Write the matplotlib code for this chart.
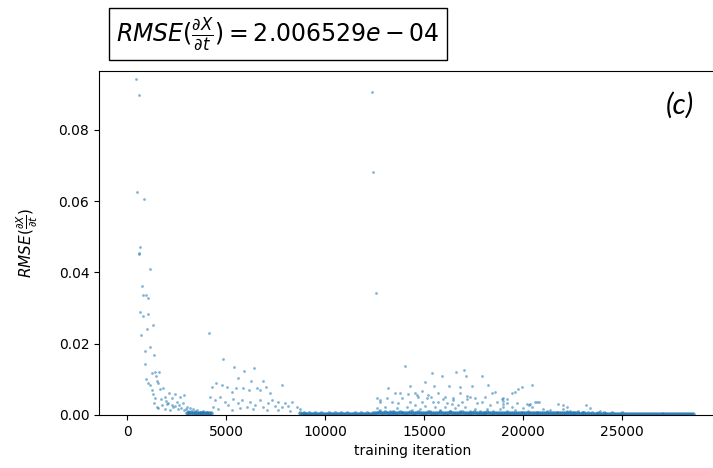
import numpy as np
import matplotlib
matplotlib.use("Agg")
import matplotlib.pyplot as plt

# first run (restart at ~0)
run_a_iter = [415, 566, 480, 819, 617, 566, 597, 1122, 718, 799, 920, 1036, 632, 768, 1021,
              1001, 1274, 683, 1153, 870, 1325, 900, 1406, 1577, 1224, 1441, 920, 1052, 1476, 1557,
              1628, 1224, 1138, 1305, 1340, 1810, 1896, 1729, 2113, 2234, 2063, 2402, 2487, 2316,
              2654, 2857, 2791, 2993, 3160, 3327, 3499, 3666, 3833, 4004, 1557, 1896, 2149, 2568,
              2857, 1390, 1476, 1700, 1950, 2250, 2700, 3050, 3400, 3750, 2020, 2380, 2620, 2950]
run_a_rmse = [0.0943, 0.0898, 0.0625, 0.0606, 0.0471, 0.0452, 0.0455, 0.0410, 0.0362, 0.0337,
              0.0338, 0.0327, 0.0290, 0.0279, 0.0283, 0.0241, 0.0252, 0.0224, 0.0192, 0.0179,
              0.0167, 0.0143, 0.0121, 0.0120, 0.0118, 0.0110, 0.0102, 0.0091, 0.0096, 0.0091,
              0.0072, 0.0070, 0.0084, 0.0059, 0.0033, 0.0075, 0.0051, 0.0028, 0.0061, 0.0047,
              0.0033, 0.0059, 0.0037, 0.0023, 0.0051, 0.0057, 0.0033, 0.0023, 0.0019, 0.0016,
              0.0014, 0.0009, 0.0010, 0.0009, 0.0019, 0.0016, 0.0014, 0.0016, 0.0014, 0.0047,
              0.0023, 0.0044, 0.0038, 0.0027, 0.0021, 0.0012, 0.0011, 0.0008, 0.0030, 0.0025,
              0.0029, 0.0017]

# second run (restart at ~4100)
run_b_iter = [4121, 4828, 5369, 5875, 6411, 5587, 6259, 6866, 7796, 4490, 4288, 4793, 5015,
              5268, 5486, 5825, 6128, 6563, 6714, 7003, 7190, 4171, 4424, 4677, 4930, 5096,
              5349, 5602, 5774, 6027, 6193, 6446, 6699, 6866, 7119, 7291, 7458, 7625, 7796,
              7963, 8130, 8302, 8555, 8722, 4338, 4591, 5268, 5688, 6360, 7038, 7625, 8216]
run_b_rmse = [0.0229, 0.0156, 0.0136, 0.0124, 0.0133, 0.0105, 0.0094, 0.0094, 0.0085, 0.0091,
              0.0078, 0.0084, 0.0079, 0.0065, 0.0075, 0.0075, 0.0070, 0.0076, 0.0070, 0.0078,
              0.0063, 0.0051, 0.0042, 0.0050, 0.0037, 0.0028, 0.0044, 0.0033, 0.0042, 0.0022,
              0.0037, 0.0028, 0.0042, 0.0022, 0.0033, 0.0042, 0.0025, 0.0037, 0.0022, 0.0033,
              0.0025, 0.0037, 0.0022, 0.0016, 0.0023, 0.0016, 0.0014, 0.0019, 0.0016, 0.0014,
              0.0014, 0.0012]

# third run (restart at ~12400)
run_c_iter = [12377, 12428, 12549, 14030, 15411, 15886, 16624, 17013, 17115, 17908, 14283,
              15041, 15512, 16270, 16826, 17433, 18242, 13777, 14197, 14536, 14905, 15208,
              15345, 15714, 16053, 16472, 16811, 17150, 17570, 18075, 18581, 18920, 20467,
              19931, 19759, 19592, 19425, 19172, 18970, 19203, 20184, 20315, 20689, 20806,
              22034, 21781, 22206, 23167, 23384, 23889, 13156, 12630, 12766, 18429, 18986,
              20350, 13525, 13863, 14621, 14672, 15127, 15714, 16138, 16472, 16725, 17317,
              17655, 18328, 19000, 19425, 20012, 20436, 21023, 21361, 22034, 22373, 22792,
              23722, 24142, 12599, 12766, 13019, 13272, 13610, 13863, 14116, 14369, 14536,
              14789, 15041, 15294, 15547, 15800, 16053, 16305, 16558, 16811, 17064, 17317,
              17570, 17823, 18161, 18496, 18834, 19172, 19592, 19931, 20264, 20689, 21195,
              21700, 22206, 23046, 12766, 13104, 13357, 13694, 14283, 14874, 15462, 15967,
              16391, 16897, 17150, 17908, 18666, 19000, 19676, 20603]
run_c_rmse = [0.0906, 0.0683, 0.0343, 0.0138, 0.0117, 0.0110, 0.0120, 0.0125, 0.0109, 0.0110,
              0.0081, 0.0092, 0.0081, 0.0081, 0.0079, 0.0080, 0.0084, 0.0061, 0.0059, 0.0061,
              0.0068, 0.0056, 0.0050, 0.0063, 0.0050, 0.0047, 0.0063, 0.0053, 0.0047, 0.0050,
              0.0065, 0.0044, 0.0083, 0.0078, 0.0072, 0.0065, 0.0061, 0.0044, 0.0040, 0.0035,
              0.0031, 0.0029, 0.0036, 0.0037, 0.0028, 0.0031, 0.0023, 0.0027, 0.0020, 0.0011,
              0.0077, 0.0047, 0.0042, 0.0063, 0.0047, 0.0030, 0.0061, 0.0047, 0.0056, 0.0051,
              0.0047, 0.0037, 0.0033, 0.0042, 0.0028, 0.0051, 0.0033, 0.0028, 0.0023, 0.0023,
              0.0019, 0.0023, 0.0016, 0.0014, 0.0016, 0.0012, 0.0010, 0.0006, 0.0006, 0.0019,
              0.0014, 0.0023, 0.0012, 0.0019, 0.0009, 0.0023, 0.0014, 0.0028, 0.0016, 0.0025,
              0.0012, 0.0023, 0.0014, 0.0022, 0.0010, 0.0019, 0.0012, 0.0023, 0.0010, 0.0018,
              0.0012, 0.0016, 0.0010, 0.0016, 0.0010, 0.0014, 0.0008, 0.0012, 0.0008, 0.0010,
              0.0008, 0.0010, 0.0008, 0.0037, 0.0047, 0.0037, 0.0033, 0.0037, 0.0037, 0.0037,
              0.0044, 0.0031, 0.0037, 0.0044, 0.0037, 0.0037, 0.0031, 0.0033, 0.0037]

# converged values near zero, logged every 100 iterations (units of 1e-4)
floor_a_start = 3000
floor_a = [7, 6, 8, 6, 7, 5, 6, 7, 5, 6, 7, 6, 5]
floor_c_start = 8700
floor_c = [5, 4, 5, 4, 4, 5, 4, 4, 5, 4, 4, 5, 4, 4, 4, 5, 4, 4, 5, 4,
           4, 5, 4, 4, 5, 4, 4, 4, 5, 4, 4, 5, 4, 4, 5, 4, 4, 5, 6, 7,
           8, 7, 6, 8, 7, 6, 7, 8, 7, 6, 7, 8, 6, 7, 7, 6, 8, 7, 6, 7,
           8, 6, 7, 7, 6, 8, 7, 6, 7, 7, 6, 8, 6, 7, 7, 6, 8, 7, 6, 7,
           7, 6, 8, 7, 6, 7, 6, 7, 8, 6, 7, 6, 7, 6, 7, 8, 6, 7, 6, 7,
           6, 7, 6, 7, 6, 7, 6, 6, 7, 6, 7, 6, 6, 5, 6, 7, 6, 5, 6, 6,
           5, 6, 6, 5, 6, 5, 6, 5, 5, 6, 5, 5, 6, 5, 5, 5, 6, 5, 5, 5,
           5, 5, 4, 5, 5, 4, 5, 4, 5, 4, 4, 5, 4, 4, 5, 4, 4, 4, 5, 4,
           4, 4, 4, 5, 4, 4, 4, 4, 4, 4, 4, 4, 4, 4, 4, 4, 4, 4, 4, 4,
           4, 4, 4, 4, 4, 4, 4, 4, 4, 4, 4, 4, 4, 4, 4, 4, 4, 4, 4, 4]

overall_rmse = 2.006529e-04

floor_a_iter = floor_a_start + 100 * np.arange(len(floor_a))
floor_c_iter = floor_c_start + 100 * np.arange(len(floor_c))

iters = np.concatenate([run_a_iter, run_b_iter, run_c_iter])
rmse = np.concatenate([run_a_rmse, run_b_rmse, run_c_rmse])
floor_iters = np.concatenate([floor_a_iter, floor_c_iter])
floor_rmse = np.concatenate([floor_a, floor_c]) * 1e-4

fig = plt.figure(figsize=(7.13, 4.68), dpi=100)
ax = fig.add_axes([99 / 713, 1 - 415 / 468, (725.6 - 99) / 713, (415 - 70.7) / 468])

ax.scatter(floor_iters, floor_rmse, s=10, color='#1f77b4', alpha=0.75, linewidths=0)
ax.scatter(iters, rmse, s=4, color='#1f77b4', alpha=0.55, linewidths=0)

ax.set_xlim(-1440, 30240)
ax.set_ylim(0, 0.0966)
ax.set_xticks([0, 5000, 10000, 15000, 20000, 25000])
ax.set_yticks([0.0, 0.02, 0.04, 0.06, 0.08])
ax.set_xlabel('training iteration')
ax.set_ylabel(r'$RMSE(\frac{\partial X}{\partial t})$', fontsize=11)
ax.yaxis.set_label_coords(-0.094, 0.5)

fig.text(680 / 713, 1 - 105 / 468, '(c)', fontsize=21, style='italic', family='Lato',
         ha='center', va='center')

fig.text(116 / 713, 1 - 34 / 468,
         r'$RMSE(\frac{\partial X}{\partial t}) = %e$' % overall_rmse,
         fontsize=17, ha='left', va='center',
         bbox=dict(boxstyle='square,pad=0.3', facecolor='white', edgecolor='black'))

fig.savefig('out.png', dpi=100)
